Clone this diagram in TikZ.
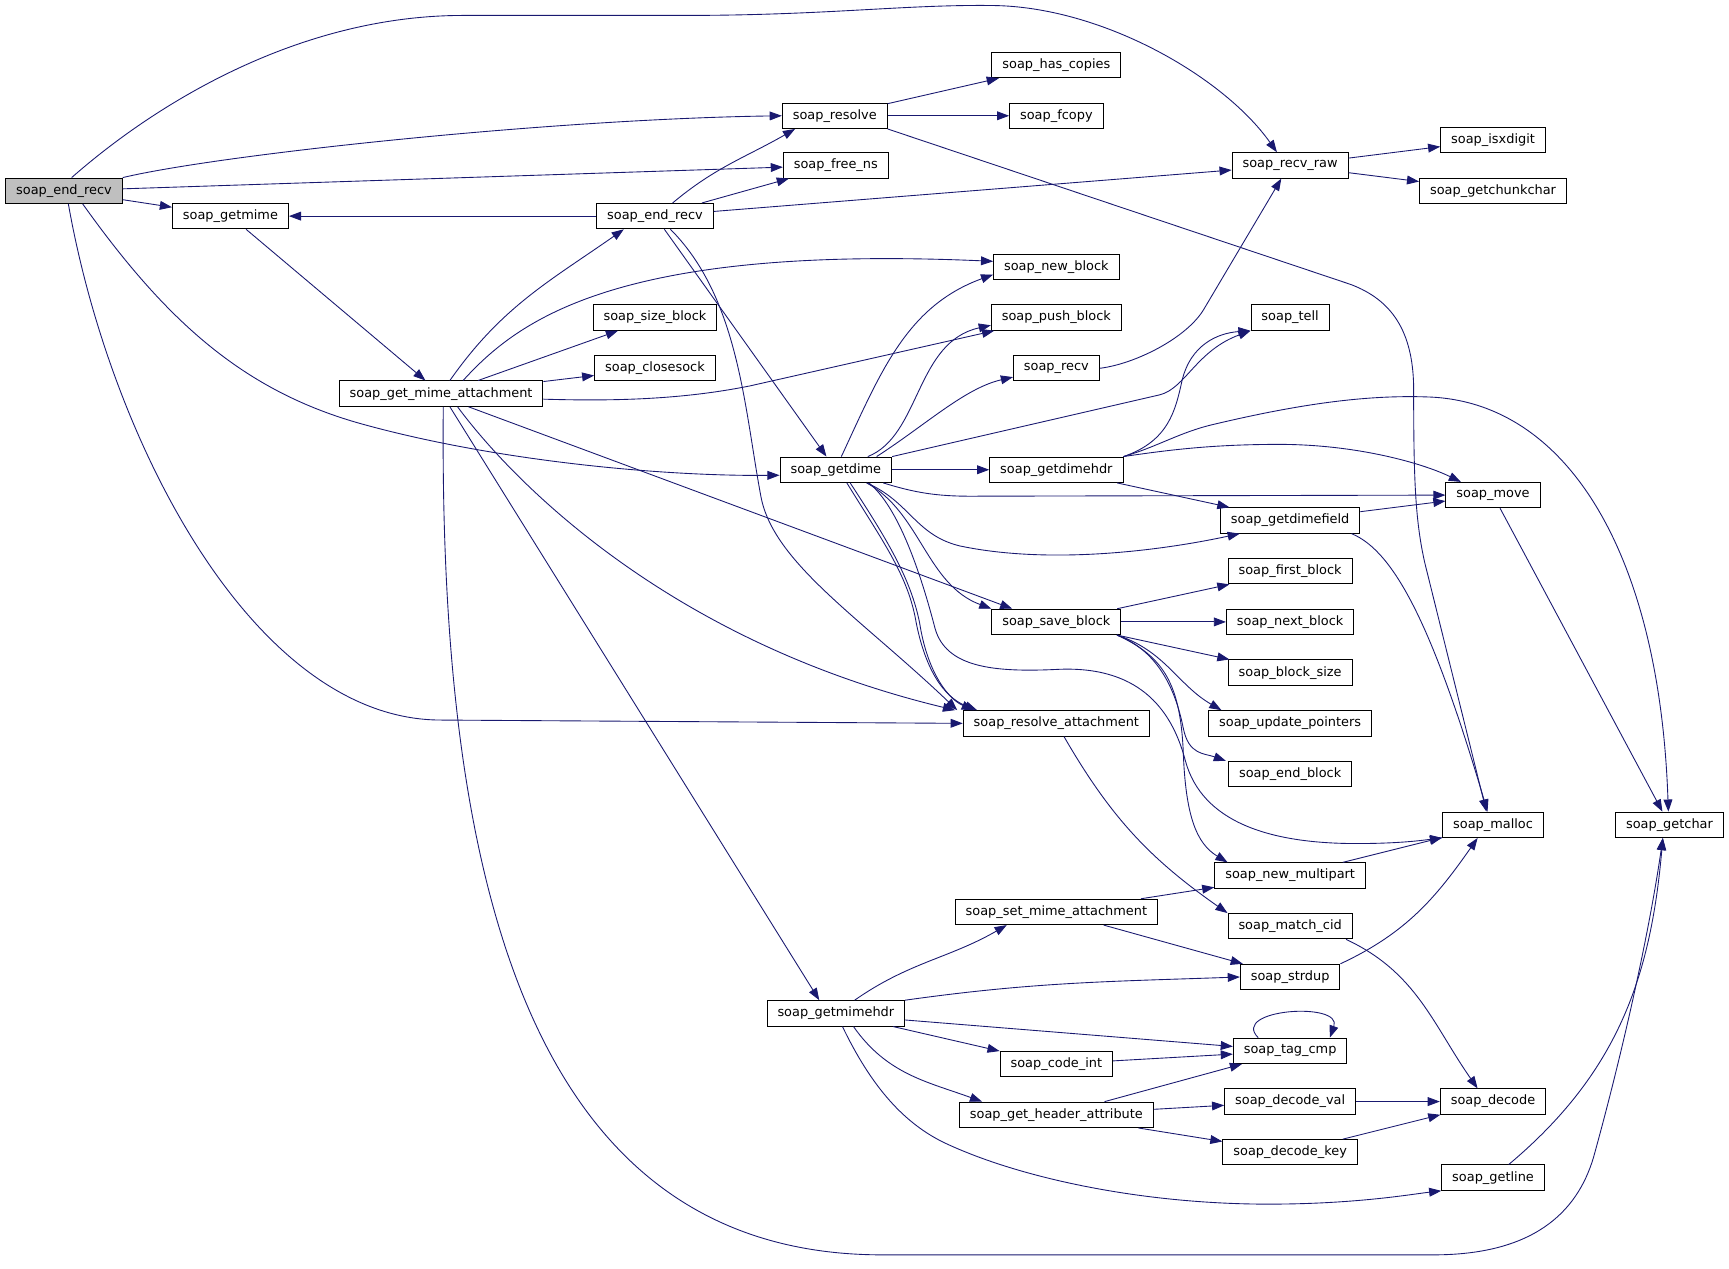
\documentclass[tikz,border=0pt]{standalone}
\usepackage{fontspec}
\setmainfont{DejaVu Sans}
\usetikzlibrary{arrows.meta}
\definecolor{edgeblue}{RGB}{25,25,112}
\definecolor{rootgray}{RGB}{191,191,191}
\begin{document}
\begin{tikzpicture}[x=1pt,y=-1pt,
    fn/.style={draw=black,line width=0.9pt,fill=white,minimum height=23pt,
      inner xsep=9.5pt,inner ysep=0pt,font=\fontsize{11.7}{14}\selectfont},
    fnroot/.style={fn,fill=rootgray}]
  \useasboundingbox (0,0) rectangle (1568,1150);
  \draw
    (58,173) node[fnroot] (endrecv){soap\_end\_recv}
    (209,196) node[fn] (getmime){soap\_getmime}
    (400,357) node[fn] (getmimeatt){soap\_get\_mime\_attachment}
    (757,105) node[fn] (resolve){soap\_resolve}
    (758,150) node[fn] (freens){soap\_free\_ns}
    (594,196) node[fn] (endrecvb){soap\_end\_recv}
    (958,59) node[fn] (hascopies){soap\_has\_copies}
    (958,105) node[fn] (fcopy){soap\_fcopy}
    (1170,150) node[fn] (recvraw){soap\_recv\_raw}
    (1354,127) node[fn] (isxdigit){soap\_isxdigit}
    (1354,173) node[fn] (getchunkchar){soap\_getchunkchar}
    (958,242) node[fn] (newblock){soap\_new\_block}
    (594,288) node[fn] (sizeblock){soap\_size\_block}
    (958,288) node[fn] (pushblock){soap\_push\_block}
    (594,334) node[fn] (closesock){soap\_closesock}
    (1170,288) node[fn] (tell){soap\_tell}
    (958,334) node[fn] (recv){soap\_recv}
    (758,426) node[fn] (getdime){soap\_getdime}
    (958,426) node[fn] (getdimehdr){soap\_getdimehdr}
    (1354,449) node[fn] (move){soap\_move}
    (1170,472) node[fn] (getdimefield){soap\_getdimefield}
    (1170,518) node[fn] (firstblock){soap\_first\_block}
    (958,564) node[fn] (saveblock){soap\_save\_block}
    (1170,564) node[fn] (nextblock){soap\_next\_block}
    (1170,610) node[fn] (blocksize){soap\_block\_size}
    (958,656) node[fn] (resolveatt){soap\_resolve\_attachment}
    (1170,656) node[fn] (updateptrs){soap\_update\_pointers}
    (1170,702) node[fn] (endblock){soap\_end\_block}
    (1354,748) node[fn] (malloc){soap\_malloc}
    (1514,748) node[fn] (getchar){soap\_getchar}
    (1170,794) node[fn] (newmultipart){soap\_new\_multipart}
    (958,827) node[fn] (setmimeatt){soap\_set\_mime\_attachment}
    (1170,840) node[fn] (matchcid){soap\_match\_cid}
    (1170,886) node[fn] (strdup){soap\_strdup}
    (758,919) node[fn] (getmimehdr){soap\_getmimehdr}
    (1170,953) node[fn] (tagcmp){soap\_tag\_cmp}
    (958,965) node[fn] (codeint){soap\_code\_int}
    (1170,999) node[fn] (decodeval){soap\_decode\_val}
    (1354,999) node[fn] (decode){soap\_decode}
    (958,1011) node[fn] (getheaderattr){soap\_get\_header\_attribute}
    (1170,1045) node[fn] (decodekey){soap\_decode\_key}
    (1354,1068) node[fn] (getline){soap\_getline};
  \begin{scope}[edgeblue,line width=0.8pt,-{Triangle[length=11pt,width=8pt]}]
    \draw ([xshift=7pt]endrecv.north) .. controls (140,95) and (270,14) .. (420,14) -- (620,14)
      .. controls (750,14) and (820,4) .. (900,5) .. controls (1000,6) and (1110,70) .. ([xshift=-12pt]recvraw.north);
    \draw (endrecv.north east) .. controls (200,140) and (500,108) .. (resolve.west);
    \draw (endrecv) to (freens);
    \draw (endrecv) to (getmime);
    \draw ([xshift=17pt]endrecv.south) .. controls (150,290) and (220,355) .. (330,385)
      .. controls (450,418) and (600,432) .. ([yshift=-5pt]getdime.west);
    \draw ([xshift=4pt]endrecv.south) .. controls (100,400) and (230,653) .. (400,653) -- (resolveatt.west);
    \draw (getmime) to (getmimeatt);
    \draw (endrecvb) to (getmime);
    \draw ([xshift=16pt]endrecvb.north) to[out=40,in=210] ([xshift=12pt]resolve.south west);
    \draw (endrecvb) to (freens);
    \draw (endrecvb) to (recvraw);
    \draw (endrecvb) to (getdime);
    \draw ([xshift=14pt]endrecvb.south) .. controls (670,270) and (675,370) .. (690,450)
      .. controls (701,510) and (780,560) .. ([xshift=-5pt]resolveatt.north west);
    \draw ([xshift=8pt]getmimeatt.north) to[out=55,in=215] ([xshift=25pt]endrecvb.south west);
    \draw ([xshift=20pt]getmimeatt.north) .. controls (470,290) and (560,222) .. ([yshift=5pt]newblock.west);
    \draw (getmimeatt) to (sizeblock);
    \draw (getmimeatt) to (closesock);
    \draw ([yshift=-5pt]getmimeatt.east) .. controls (560,364) and (620,362) .. (680,350)
      -- ([xshift=3pt]pushblock.south west);
    \draw ([xshift=25pt]getmimeatt.south) to ([xshift=-40pt]saveblock.north);
    \draw ([xshift=15pt]getmimeatt.south) .. controls (460,430) and (600,580) .. ([xshift=-7pt]resolveatt.north west);
    \draw ([xshift=8pt]getmimeatt.south) to ([xshift=-15pt]getmimehdr.north);
    \draw ([xshift=2pt]getmimeatt.south) .. controls (398,800) and (480,1138) .. (800,1138) -- (1300,1138)
      .. controls (1390,1138) and (1430,1100) .. (1445,1050)
      .. controls (1470,960) and (1495,850) .. ([xshift=-6pt]getchar.south);
    \draw (resolve) to (hascopies);
    \draw (resolve) to (fcopy);
    \draw (resolve.south east) -- (1225,258) .. controls (1262,272) and (1281,300) .. (1282,350)
      .. controls (1282,430) and (1283,470) .. (1292,510) -- ([xshift=-6pt]malloc.north);
    \draw (recvraw) to (isxdigit);
    \draw (recvraw) to (getchunkchar);
    \draw ([xshift=5pt]getdime.north) to[out=65,in=200] ([yshift=-7pt]newblock.west);
    \draw ([xshift=29pt]getdime.north) .. controls (835,395) and (830,310) .. ([yshift=-7pt]pushblock.west);
    \draw ([xshift=37pt]getdime.north) .. controls (840,385) and (875,352) .. ([yshift=-8pt]recv.west);
    \draw (getdime.north east) -- (1052,358) .. controls (1075,352) and (1085,318) .. (tell.south west);
    \draw (getdime) to (getdimehdr);
    \draw ([xshift=-8pt]getdime.south east) .. controls (830,447) and (850,450) .. (880,450) -- (move.west);
    \draw ([xshift=28pt]getdime.south) .. controls (825,455) and (830,485) .. (870,495)
      .. controls (950,512) and (1050,500) .. ([xshift=18pt]getdimefield.south west);
    \draw ([xshift=28pt]getdime.south) .. controls (835,465) and (840,530) .. (saveblock.north west);
    \draw ([xshift=10pt]getdime.south) .. controls (800,490) and (822,520) .. (830,560)
      .. controls (838,605) and (855,632) .. ([xshift=13pt]resolveatt.north west);
    \draw ([xshift=13pt]getdime.south) .. controls (805,490) and (826,525) .. (834,565)
      .. controls (841,610) and (860,634) .. ([xshift=10pt]resolveatt.north west);
    \draw ([xshift=30pt]getdime.south) .. controls (815,460) and (835,520) .. (848,570)
      .. controls (858,605) and (900,610) .. (960,607) .. controls (1030,604) and (1062,640) .. (1075,690)
      .. controls (1090,745) and (1150,765) .. (1230,765) .. controls (1270,765) and (1290,762) .. (malloc.south west);
    \draw (getdimehdr.north east) .. controls (1060,400) and (1066,372) .. (1072,345)
      .. controls (1080,312) and (1105,302) .. (tell.south west);
    \draw (getdimehdr.north east) .. controls (1050,405) and (1070,392) .. (1100,385)
      .. controls (1180,366) and (1240,358) .. (1295,360) .. controls (1420,364) and (1505,500) .. ([xshift=-1pt]getchar.north);
    \draw (getdimehdr.north east) .. controls (1060,408) and (1100,403) .. (1160,403)
      .. controls (1230,403) and (1290,420) .. ([xshift=14pt]move.north west);
    \draw (getdimehdr) to (getdimefield);
    \draw (getdimefield) to (move);
    \draw ([xshift=-8pt]getdimefield.south east) .. controls (1265,500) and (1300,570) .. ([xshift=-5pt]malloc.north);
    \draw (move) to (getchar);
    \draw (recv.east) .. controls (1030,330) and (1077,306) .. (1092,280) -- ([xshift=-8pt]recvraw.south);
    \draw (saveblock) to (firstblock);
    \draw (saveblock) to (nextblock);
    \draw (saveblock) to (blocksize);
    \draw ([xshift=-4pt]saveblock.south east) to[out=-18,in=150] ([xshift=12pt]updateptrs.north west);
    \draw ([xshift=-4pt]saveblock.south east) .. controls (1050,590) and (1066,625) .. (1073,660)
      .. controls (1078,685) and (1092,683) .. ([xshift=-2pt]endblock.north west);
    \draw ([xshift=-4pt]saveblock.south east) .. controls (1055,595) and (1070,620) .. (1073,680)
      .. controls (1075,740) and (1085,765) .. ([xshift=12pt]newmultipart.north west);
    \draw (resolveatt) to[out=-60,in=145] (matchcid.north west);
    \draw (setmimeatt) to (newmultipart);
    \draw (setmimeatt) to (strdup);
    \draw (newmultipart) to (malloc);
    \draw (strdup.north east) to[out=25,in=-125] ([xshift=-14pt]malloc.south);
    \draw ([xshift=-6pt]matchcid.south east) to[out=-25,in=125] ([xshift=-14pt]decode.north);
    \draw (getmimehdr) to[out=35,in=-150] ([xshift=-45pt]setmimeatt.south);
    \draw (getmimehdr.north east) to[out=8,in=182] (strdup.west);
    \draw ([yshift=-6pt]getmimehdr.east) to ([yshift=4pt]tagcmp.west);
    \draw (getmimehdr) to (codeint);
    \draw ([xshift=16pt]getmimehdr.south) to[out=-55,in=160] ([xshift=21pt]getheaderattr.north west);
    \draw ([xshift=6pt]getmimehdr.south) .. controls (790,985) and (820,1020) .. (860,1038)
      .. controls (930,1070) and (1040,1092) .. (1150,1092) .. controls (1230,1092) and (1280,1083) .. (getline.south west);
    \draw ([xshift=23pt]tagcmp.north west) .. controls (1115,915) and (1218,908) .. ([xshift=-16pt]tagcmp.north east);
    \draw (codeint) to (tagcmp);
    \draw (getheaderattr) to (tagcmp);
    \draw (getheaderattr) to (decodeval);
    \draw (getheaderattr) to (decodekey);
    \draw (decodeval) to (decode);
    \draw (decodekey) to (decode);
    \draw (getline) to[out=40,in=-95] ([xshift=-6pt]getchar.south);
  \end{scope}
\end{tikzpicture}
\end{document}
